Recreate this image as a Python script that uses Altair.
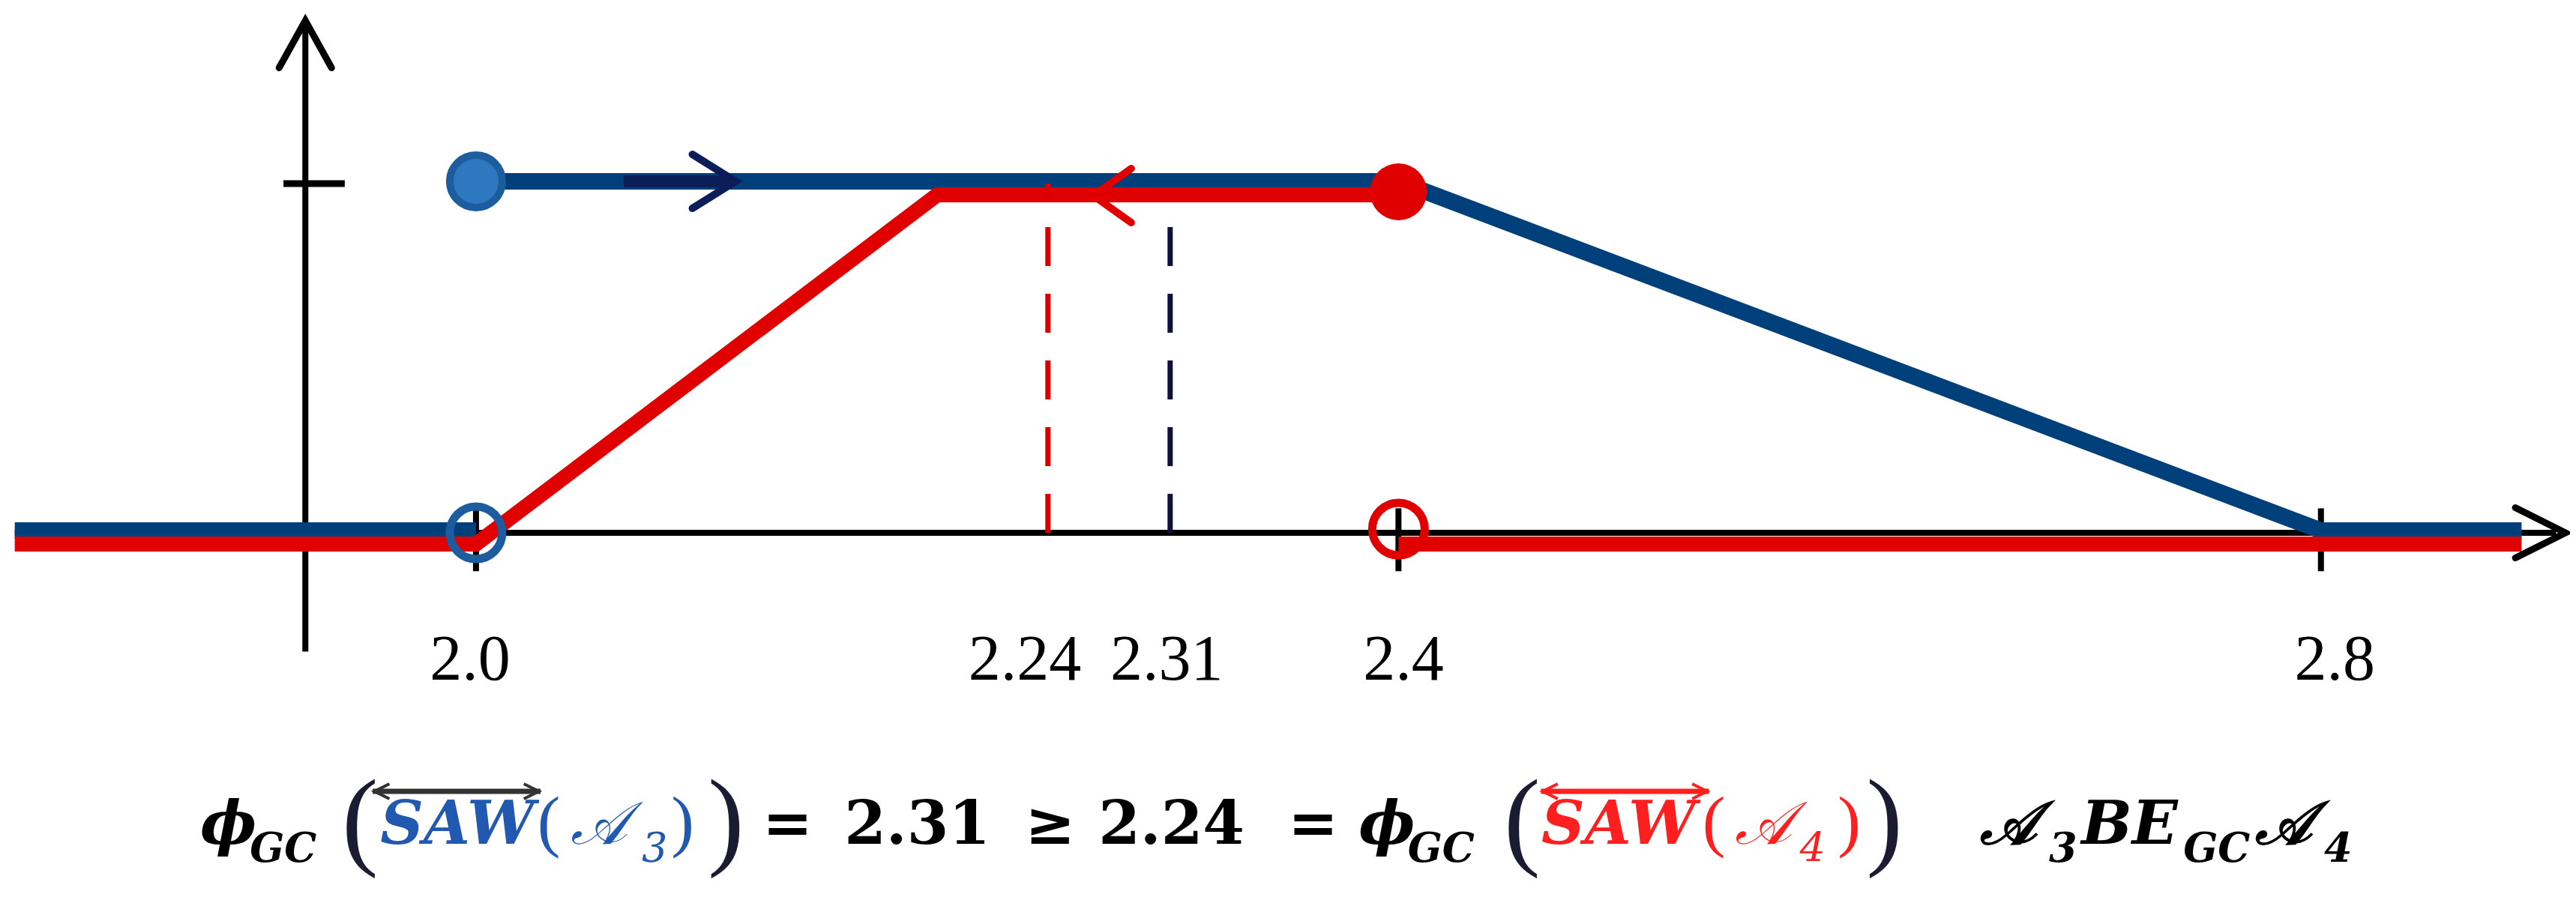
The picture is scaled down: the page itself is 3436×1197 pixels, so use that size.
import altair as alt
import pandas as pd

# ---------------- data ----------------
# SAW(A3) membership curve (blue) – segments
blue_x = [1.80, 2.00, 2.00, 2.40, 2.80, 2.887]
blue_y = [0, 0, 1, 1, 0, 0]
blue_seg = [0, 0, 1, 1, 1, 1]

# SAW(A4) membership curve (red) – segments
red_x = [1.80, 2.00, 2.20, 2.40, 2.40, 2.887]
red_y = [0, 0, 1, 1, 0, 0]
red_seg = [0, 0, 0, 0, 1, 1]

# end-point markers
blue_filled = (2.0, 1)
blue_open = (2.0, 0)
red_filled = (2.4, 1)
red_open = (2.4, 0)

# GC values (dashed cuts) as positioned in the picture
cut_red_x, cut_red_top = 2.248, 1.0
cut_blue_x, cut_blue_top = 2.301, 0.908

# direction arrows on the curves
arrow_blue_x, arrow_red_x = 2.1032, 2.2759
shaft_x = [2.0641, 2.1109]

# axes drawn through the origin
yaxis_x = 1.926
yaxis_y = [-0.34, 1.462]
xaxis_x = [1.80, 2.902]
xticks = [2.0, 2.4, 2.8]
ytick_x = [1.9165, 1.9431]

# x tick labels
tick_labels = ["2.0", "2.24", "2.31", "2.4", "2.8"]
tick_pos = [1.9974, 2.238, 2.2995, 2.4022, 2.806]

# formula pieces
f_bold_it_text = ["ϕ", "ϕ", "𝒜", "BE", "𝒜"]
f_bold_it_x = [1.8804, 2.3827, 2.6522, 2.6961, 2.7716]
f_sub_text = ["GC", "GC", "3", "GC", "4"]
f_sub_x = [1.9019, 2.4040, 2.6821, 2.7403, 2.8014]
f_ops_text = ["=", "2.31", "≥", "2.24", "="]
f_ops_x = [2.1242, 2.1597, 2.2380, 2.2699, 2.3521]
f_saw_x = [1.9585, 2.4620]
f_a_x = [2.0410, 2.5460]
f_asub_text = ["3", "4"]
f_asub_x = [2.0719, 2.5740]
f_par_text = ["(", ")", "(", ")"]
f_par_x = [2.0266, 2.0846, 2.5318, 2.5905]
f_bigpar_x = [1.9418, 2.1005, 2.4457, 2.6028]
f_over_x = [[1.9552, 2.0280], [2.4618, 2.5346]]

# ---------------- styling ----------------
BLUE = "#00407A"
RED = "#E00000"
NAVY = "#101040"
TXT_BLUE = "#2158B0"
TXT_RED = "#FF1F1F"
xs = alt.Scale(domain=[1.7962, 2.908], nice=False, zero=False)
ys = alt.Scale(domain=[-1.0258, 1.5086], nice=False, zero=False)


def X(f):
    return alt.X(f, type="quantitative", scale=xs, axis=None)


def Y(f):
    return alt.Y(f, type="quantitative", scale=ys, axis=None)


def X2(f):
    return alt.X2(f)


def Y2(f):
    return alt.Y2(f)


layers = []

# axes
ax_df = pd.DataFrame({"x": [xaxis_x[0], yaxis_x], "x2": [xaxis_x[1], yaxis_x],
                      "y": [0, yaxis_y[0]], "y2": [0, yaxis_y[1]]})
layers.append(alt.Chart(ax_df).mark_rule(color="black", strokeWidth=8).encode(
    X("x"), X2("x2"), Y("y"), Y2("y2")))
tk_df = pd.DataFrame({"x": xticks, "y": [0.07] * 3, "y2": [-0.11] * 3})
layers.append(alt.Chart(tk_df).mark_rule(color="black", strokeWidth=8).encode(
    X("x"), Y("y"), Y2("y2")))
yt_df = pd.DataFrame({"x": [ytick_x[0]], "x2": [ytick_x[1]], "y": [1]})
layers.append(alt.Chart(yt_df).mark_rule(color="black", strokeWidth=9).encode(
    X("x"), X2("x2"), Y("y")))
# axis arrowheads
layers.append(alt.Chart(pd.DataFrame({"x": [yaxis_x], "y": [1.3991]})).mark_point(
    shape="M-1,0.9L0,-0.9L1,0.9", size=4900, filled=False, color="black",
    strokeWidth=9, opacity=1, strokeCap="round").encode(X("x"), Y("y")))
layers.append(alt.Chart(pd.DataFrame({"x": [2.8952], "y": [0]})).mark_point(
    shape="M-1,-1L1,0L-1,1", size=4489, filled=False, color="black",
    strokeWidth=9, opacity=1, strokeCap="round").encode(X("x"), Y("y")))

# curves
blue_df = pd.DataFrame({"x": blue_x, "y": blue_y, "seg": blue_seg, "i": list(range(len(blue_x)))})
layers.append(alt.Chart(blue_df).mark_line(color=BLUE, strokeWidth=22, yOffset=-3,
                                           strokeJoin="miter", strokeCap="butt").encode(
    X("x"), Y("y"), detail="seg:N", order="i:Q"))
red_df = pd.DataFrame({"x": red_x, "y": red_y, "seg": red_seg, "i": list(range(len(red_x)))})
layers.append(alt.Chart(red_df).mark_line(color=RED, strokeWidth=20, yOffset=15,
                                          strokeJoin="miter", strokeCap="butt").encode(
    X("x"), Y("y"), detail="seg:N", order="i:Q"))

# dashed cuts
dash_df = pd.DataFrame({"x": [cut_red_x], "y": [0], "y2": [cut_red_top]})
layers.append(alt.Chart(dash_df).mark_rule(color="#D80000", strokeWidth=7, strokeDash=[52, 37]).encode(
    X("x"), Y("y"), Y2("y2")))
dash_df2 = pd.DataFrame({"x": [cut_blue_x], "y": [0], "y2": [cut_blue_top]})
layers.append(alt.Chart(dash_df2).mark_rule(color=NAVY, strokeWidth=7, strokeDash=[52, 37]).encode(
    X("x"), Y("y"), Y2("y2")))

# direction arrows
sh_df = pd.DataFrame({"x": [shaft_x[0]], "x2": [shaft_x[1]], "y": [1]})
layers.append(alt.Chart(sh_df).mark_rule(color="#0B1E5A", strokeWidth=16, yOffset=-3).encode(
    X("x"), X2("x2"), Y("y")))
layers.append(alt.Chart(pd.DataFrame({"x": [arrow_blue_x], "y": [1]})).mark_point(
    shape="M-0.8,-1L0.8,0L-0.8,1", size=5184, filled=False, color="#0B1E5A",
    strokeWidth=10, opacity=1, strokeCap="round", yOffset=-3).encode(X("x"), Y("y")))
layers.append(alt.Chart(pd.DataFrame({"x": [arrow_red_x], "y": [1]})).mark_point(
    shape="M0.7,-1L-0.7,0L0.7,1", size=5184, filled=False, color=RED,
    strokeWidth=10, opacity=1, strokeCap="round", yOffset=16).encode(X("x"), Y("y")))

# markers
layers.append(alt.Chart(pd.DataFrame({"x": [blue_filled[0]], "y": [blue_filled[1]]})).mark_point(
    shape="circle", size=4900, filled=True, fill="#2E78C0", stroke="#1D5C9E",
    strokeWidth=10, opacity=1, yOffset=-3).encode(X("x"), Y("y")))
layers.append(alt.Chart(pd.DataFrame({"x": [blue_open[0]], "y": [blue_open[1]]})).mark_point(
    shape="circle", size=4900, filled=False, color="#1D5C9E",
    strokeWidth=11, opacity=1).encode(X("x"), Y("y")))
layers.append(alt.Chart(pd.DataFrame({"x": [red_filled[0]], "y": [red_filled[1]]})).mark_point(
    shape="circle", size=5776, filled=True, color=RED, opacity=1, yOffset=11).encode(X("x"), Y("y")))
layers.append(alt.Chart(pd.DataFrame({"x": [red_open[0]], "y": [red_open[1]]})).mark_point(
    shape="circle", size=4900, filled=False, color=RED,
    strokeWidth=11, opacity=1, yOffset=-5).encode(X("x"), Y("y")))

# tick labels
tl_df = pd.DataFrame({"x": tick_pos, "t": tick_labels, "y": [-0.4206] * len(tick_pos)})
layers.append(alt.Chart(tl_df).mark_text(font="Liberation Serif", fontSize=86, color="black",
                                         align="center", baseline="alphabetic").encode(
    X("x"), Y("y"), text="t:N"))

# formula
BASE = -0.89
SUB = -0.9421


def txt(xv, tv, yv, font, size, color, weight="normal", style="normal"):
    df = pd.DataFrame({"x": xv, "t": tv, "y": [yv] * len(xv), "c": color})
    return alt.Chart(df).mark_text(font=font, fontSize=size, fontWeight=weight, fontStyle=style,
                                   align="left", baseline="alphabetic").encode(
        X("x"), Y("y"), text="t:N", color=alt.Color("c:N", scale=None))


layers.append(txt(f_bold_it_x, f_bold_it_text, BASE, "DejaVu Serif", 80, ["black"] * 5, "bold", "italic"))
layers.append(txt(f_sub_x, f_sub_text, SUB, "DejaVu Serif", 54, ["black"] * 5, "bold", "italic"))
layers.append(txt(f_ops_x, f_ops_text, BASE, "DejaVu Serif", 80, ["black"] * 5, "bold", "normal"))
layers.append(txt(f_saw_x, ["SAW", "SAW"], BASE, "DejaVu Serif", 80, [TXT_BLUE, TXT_RED], "bold", "italic"))
layers.append(txt(f_a_x, ["𝒜", "𝒜"], BASE, "DejaVu Serif", 80, [TXT_BLUE, TXT_RED], "normal", "italic"))
layers.append(txt(f_asub_x, f_asub_text, SUB, "DejaVu Serif", 54, [TXT_BLUE, TXT_RED], "normal", "italic"))
layers.append(txt(f_par_x, f_par_text, BASE, "Liberation Serif", 92,
                  [TXT_BLUE, TXT_BLUE, TXT_RED, TXT_RED]))
layers.append(txt(f_bigpar_x, f_par_text, -0.9227, "Liberation Serif", 146, ["#1b1b33"] * 4))

ov_df = pd.DataFrame({"x": [a for a, b in f_over_x], "x2": [b for a, b in f_over_x],
                      "y": [-0.7403, -0.7403], "c": ["#333333", TXT_RED]})
layers.append(alt.Chart(ov_df).mark_rule(strokeWidth=7).encode(
    X("x"), X2("x2"), Y("y"), color=alt.Color("c:N", scale=None)))
oh_df = pd.DataFrame({"x": [f_over_x[0][0] + 0.004, f_over_x[1][0] + 0.004],
                      "y": [-0.7403, -0.7403], "c": ["#333333", TXT_RED]})
layers.append(alt.Chart(oh_df).mark_point(shape="M1,-1L-1,0L1,1", size=400, filled=False,
                                          strokeWidth=4, opacity=1).encode(
    X("x"), Y("y"), color=alt.Color("c:N", scale=None)))
oh_df2 = pd.DataFrame({"x": [f_over_x[0][1] - 0.004, f_over_x[1][1] - 0.004],
                       "y": [-0.7403, -0.7403], "c": ["#333333", TXT_RED]})
layers.append(alt.Chart(oh_df2).mark_point(shape="M-1,-1L1,0L-1,1", size=400, filled=False,
                                           strokeWidth=4, opacity=1).encode(
    X("x"), Y("y"), color=alt.Color("c:N", scale=None)))

chart = alt.layer(*layers).properties(
    width=3420, height=1181, padding=0,
    autosize=alt.AutoSizeParams(type="none"),
    background="white",
).configure_view(stroke=None)

chart.save("out.html", embed_options={"renderer": "svg", "actions": False})
